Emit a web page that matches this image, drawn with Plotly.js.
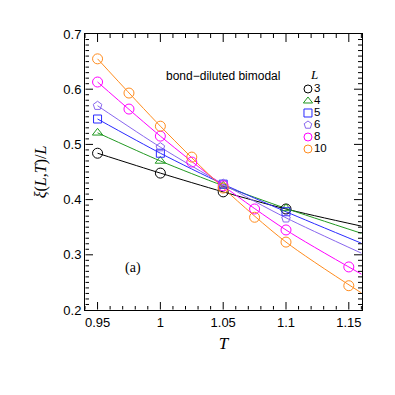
<!doctype html>
<html lang="en">
<head>
<meta charset="UTF-8" />
<title>xi(L,T)/L bond-diluted bimodal</title>
<script src="https://cdn.plot.ly/plotly-3.0.1.min.js"></script>
<style>
  body { margin: 0; background: white; }
  #chart { width: 395px; height: 395px; }
</style>
</head>
<body>
<div id="chart"></div>
<script>
// system sizes and colours
const sizes = ["3", "4", "5", "6", "8", "10"];
const colors = ["#000000", "#229922", "#2a2aff", "#8866ee", "#ff00ff", "#ff8c1e"];
const symbols = ["circle-open", "triangle-up-open", "square-open", "pentagon-open", "circle-open", "circle-open"];
const markerSizes = [10, 9, 8, 9, 10, 10];

// measured points
const tSmall = [0.95, 1.0, 1.05, 1.1];
const tLarge = [0.95, 0.975, 1.0, 1.025, 1.05, 1.075, 1.1, 1.15];
const xiL3 = [0.484, 0.448, 0.414, 0.383];
const xiL4 = [0.521, 0.470, 0.425, 0.384];
const xiL5 = [0.546, 0.484, 0.428, 0.378];
const xiL6 = [0.570, 0.495, 0.429, 0.366];
const xiL8 = [0.613, 0.564, 0.515, 0.468, 0.425, 0.383, 0.345, 0.278];
const xiL10 = [0.655, 0.593, 0.533, 0.477, 0.421, 0.368, 0.323, 0.244];

// fitted curves
const tFit = [0.95, 1.0, 1.05, 1.1, 1.16];
const fitL3 = [0.484, 0.448, 0.414, 0.383, 0.352];
const fitL4 = [0.521, 0.470, 0.425, 0.384, 0.339];
const fitL5 = [0.546, 0.484, 0.428, 0.378, 0.321];
const fitL6 = [0.570, 0.495, 0.428, 0.367, 0.303];
const fitL8 = [0.613, 0.515, 0.425, 0.345, 0.265];
const fitL10 = [0.655, 0.533, 0.421, 0.323, 0.231];

// axis ticks
const xTicks = [0.95, 1.0, 1.05, 1.1, 1.15];
const yTicks = [0.2, 0.3, 0.4, 0.5, 0.6, 0.7];
const xRange = [0.94, 1.1605];
const yRange = [0.2, 0.7];

const pointT = [tSmall, tSmall, tSmall, tSmall, tLarge, tLarge];
const pointXi = [xiL3, xiL4, xiL5, xiL6, xiL8, xiL10];
const fits = [fitL3, fitL4, fitL5, fitL6, fitL8, fitL10];

const traces = [];
for (let i = 0; i < sizes.length; i++) {
    traces.push({
        x: tFit, y: fits[i], type: "scatter", mode: "lines",
        line: { color: colors[i], width: 1, shape: "spline", smoothing: 0.8 },
        showlegend: false, hoverinfo: "skip",
    });
}
for (let i = 0; i < sizes.length; i++) {
    traces.push({
        x: pointT[i], y: pointXi[i], type: "scatter", mode: "markers",
        name: "L = " + sizes[i],
        marker: { symbol: symbols[i], color: colors[i], size: markerSizes[i], line: { width: 1, color: colors[i] } },
        showlegend: false,
    });
}

// hand-made key in its own small hidden subplot, one row per size
const keyRow = sizes.map((s, i) => i);
traces.push({
    x: sizes.map(() => 0), y: keyRow, xaxis: "x2", yaxis: "y2",
    type: "scatter", mode: "markers+text",
    text: sizes, textposition: "middle right",
    textfont: { family: "Liberation Sans, Arial, sans-serif", size: 11.5, color: "#000" },
    marker: { symbol: symbols, color: colors, size: 8, line: { width: 1, color: colors } },
    showlegend: false, hoverinfo: "skip", cliponaxis: false,
});

// tick marks inside the frame: top and right as shapes,
// bottom and left as one thin line trace on the main axes
const shapes = [];
const tickX = [], tickY = [];
const xPerPx = (xRange[1] - xRange[0]) / 277;
const yPerPx = (yRange[1] - yRange[0]) / 276;
function tick(axis, v, len) {
    const ln = { color: "#000", width: 1 };
    if (axis === "x") {
        shapes.push({ type: "line", xref: "x", yref: "y domain", x0: v, x1: v, y0: 1, y1: 1 - len / 276, line: ln, layer: "above" });
        tickX.push(v, v, null);
        tickY.push(yRange[0] + 0.5 * yPerPx, yRange[0] + len * yPerPx, null);
    } else {
        shapes.push({ type: "line", xref: "x domain", yref: "y", x0: 1, x1: 1 - len / 277, y0: v, y1: v, line: ln, layer: "above" });
        tickX.push(xRange[0] + 0.5 * xPerPx, xRange[0] + len * xPerPx, null);
        tickY.push(v, v, null);
    }
}
for (let k = 94; k <= 116; k++) {
    const v = k / 100;
    tick("x", v, xTicks.some(t => Math.abs(t - v) < 1e-9) ? 8 : 4);
}
for (let k = 21; k <= 69; k++) {
    const v = k / 100;
    tick("y", v, yTicks.some(t => Math.abs(t - v) < 1e-9) ? 8 : 4);
}
traces.push({
    x: tickX, y: tickY, type: "scatter", mode: "lines",
    line: { color: "#000", width: 1 }, connectgaps: false,
    showlegend: false, hoverinfo: "skip", cliponaxis: false,
});

const layout = {
    width: 395, height: 395,
    margin: { l: 85, r: 33, t: 34, b: 85 },
    paper_bgcolor: "white", plot_bgcolor: "rgba(0,0,0,0)",
    showlegend: false,
    font: { family: "Liberation Sans, Arial, sans-serif", size: 13, color: "#000" },
    xaxis: {
        domain: [0, 1], anchor: "y",
        range: xRange, tickmode: "array", tickvals: xTicks, ticks: "",
        showline: true, linecolor: "#000", linewidth: 1, mirror: true,
        showgrid: false, zeroline: false,
        tickfont: { size: 13 },
        title: { text: "<i>T</i>", font: { family: "Liberation Serif, DejaVu Serif, serif", size: 17 }, standoff: 8 },
    },
    yaxis: {
        domain: [0, 1], anchor: "x",
        range: yRange, tickmode: "array", tickvals: yTicks, ticks: "",
        showline: true, linecolor: "#000", linewidth: 1, mirror: true,
        showgrid: false, zeroline: false,
        tickfont: { size: 13 },
        title: { text: "<i>ξ</i>(<i>L</i>,<i>T</i>)/<i>L</i>", font: { family: "Liberation Serif, DejaVu Serif, serif", size: 16 }, standoff: 12 },
    },
    xaxis2: { domain: [0.776, 0.921], anchor: "y2", range: [-1, 4], visible: false, fixedrange: true },
    yaxis2: { domain: [0.5616, 0.8225], anchor: "x2", range: [5.5, -0.5], visible: false, fixedrange: true },
    shapes: shapes,
    annotations: [
        { xref: "paper", yref: "paper", x: 0.499, y: 0.88, text: "bond−diluted bimodal", showarrow: false,
          font: { family: "Liberation Sans, Arial, sans-serif", size: 12 } },
        { xref: "paper", yref: "paper", x: 0.848, y: 0.888, text: "<i>L</i>", showarrow: false,
          font: { family: "Liberation Serif, serif", size: 13 } },
        { xref: "paper", yref: "paper", x: 0.137, y: 0.115, text: "(a)", showarrow: false,
          font: { family: "Liberation Serif, serif", size: 14 } },
    ],
};

Plotly.newPlot("chart", traces, layout, { displayModeBar: false });
</script>
</body>
</html>
